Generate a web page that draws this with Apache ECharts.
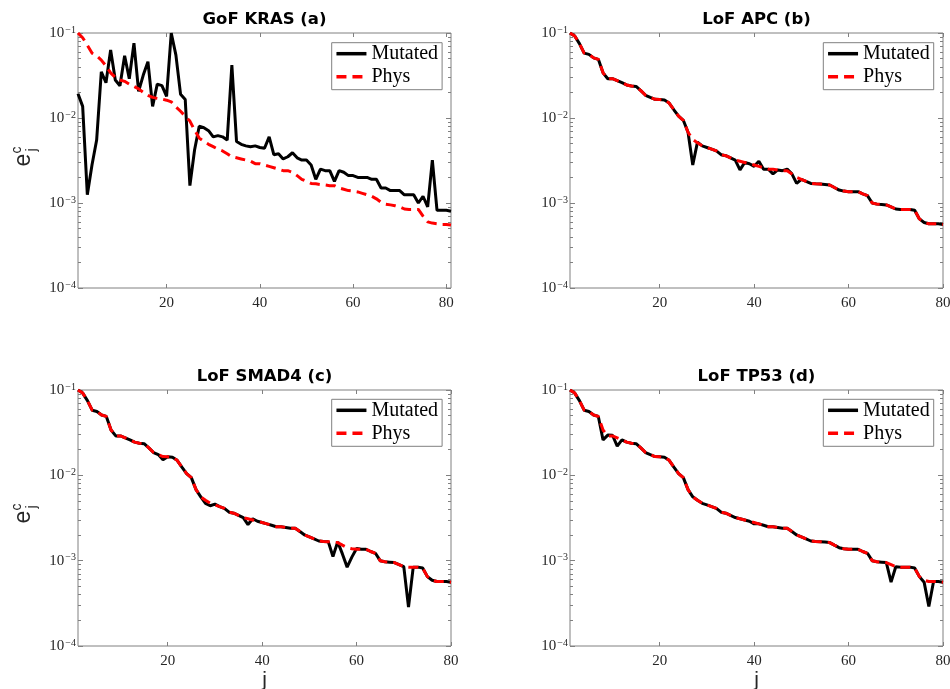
<!DOCTYPE html>
<html><head><meta charset="utf-8">
<script src="https://cdn.jsdelivr.net/npm/echarts@6/dist/echarts.min.js"></script>
<style>html,body{margin:0;padding:0;background:#fff}#c{width:950px;height:689px}</style>
</head><body><div id="c"></div>
<script>
// ---- data ----
const titles = ['GoF KRAS (a)', 'LoF APC (b)', 'LoF SMAD4 (c)', 'LoF TP53 (d)'];
const seriesNames = ['Mutated', 'Phys'];
const xTicks = [20, 40, 60, 80];
const xMax = [81, 80, 80, 80];
const yMajor = [1e-4, 1e-3, 1e-2, 1e-1];
const yMinor = [2e-4,3e-4,4e-4,5e-4,6e-4,7e-4,8e-4,9e-4,
                2e-3,3e-3,4e-3,5e-3,6e-3,7e-3,8e-3,9e-3,
                2e-2,3e-2,4e-2,5e-2,6e-2,7e-2,8e-2,9e-2];

const physKRAS = [0.100,0.088,0.072,0.058,0.054,0.048,0.041,0.034,0.030,0.028,
  0.027,0.025,0.0235,0.022,0.020,0.0185,0.0175,0.017,0.0167,0.0162,
  0.0155,0.0135,0.012,0.0105,0.0092,0.0072,0.0058,0.0053,0.0049,0.0046,
  0.0043,0.0041,0.0038,0.0035,0.0034,0.0033,0.0032,0.0031,0.0029,0.0029,
  0.0028,0.0027,0.0026,0.0025,0.0024,0.0024,0.0023,0.0021,0.0019,0.0018,
  0.0017,0.00168,0.00165,0.00163,0.0016,0.0016,0.0015,0.00145,0.0014,0.00138,
  0.00135,0.0013,0.00125,0.0012,0.00112,0.00102,0.00097,0.00095,0.00093,0.0009,
  0.00085,0.00084,0.00084,0.00084,0.00070,0.00060,0.00058,0.00057,0.00056,0.00056,
  0.00055];
const mutKRAS = [0.0193,0.0137,0.00125,0.0028,0.0055,0.035,0.026,0.063,0.028,0.024,
  0.054,0.029,0.076,0.0206,0.032,0.046,0.0137,0.025,0.024,0.018,
  0.100,0.055,0.019,0.0165,0.0016,0.0042,0.008,0.0077,0.0071,0.006,
  0.0062,0.006,0.0055,0.042,0.0053,0.0049,0.0047,0.0046,0.0047,0.0045,
  0.0044,0.006,0.0037,0.0038,0.0033,0.0035,0.0039,0.0034,0.0032,0.0032,
  0.0028,0.0019,0.0025,0.0024,0.0024,0.0018,0.0024,0.0023,0.0021,0.0021,
  0.0020,0.0020,0.0020,0.0019,0.0019,0.0015,0.0015,0.0014,0.0014,0.0014,
  0.00125,0.00125,0.00125,0.0010,0.0012,0.0009,0.0032,0.00082,0.00082,0.00082,
  0.0008];
const phys = [0.100,0.092,0.075,0.058,0.056,0.051,0.049,0.034,0.029,0.029,
  0.0275,0.026,0.0245,0.0238,0.0235,0.021,0.0185,0.0175,0.0166,0.0165,
  0.0163,0.0150,0.0125,0.0105,0.0094,0.0068,0.0056,0.0051,0.0047,0.0045,
  0.0043,0.0041,0.0037,0.0036,0.0034,0.0032,0.0031,0.0030,0.0029,0.0028,
  0.0027,0.0026,0.0025,0.0025,0.00245,0.0024,0.0024,0.0022,0.0020,0.0019,
  0.0018,0.0017,0.00168,0.00167,0.00165,0.00163,0.00152,0.00142,0.00138,0.00136,
  0.00136,0.00136,0.00128,0.00122,0.00100,0.00097,0.00096,0.00095,0.00090,0.00085,
  0.00084,0.00084,0.00084,0.00082,0.00065,0.00059,0.00057,0.00057,0.00057,0.00056];
const mutAPC = [0.100,0.092,0.075,0.058,0.056,0.051,0.049,0.034,0.029,0.029,
  0.0275,0.026,0.0245,0.0238,0.0235,0.021,0.0185,0.0175,0.0166,0.0165,
  0.0163,0.0150,0.0125,0.0105,0.0094,0.0068,0.0028,0.0052,0.0047,0.0045,
  0.0043,0.0041,0.0037,0.0036,0.0034,0.0032,0.00245,0.0030,0.0029,0.0027,
  0.0031,0.0025,0.0025,0.0022,0.00245,0.0024,0.0025,0.0022,0.0017,0.0019,
  0.0018,0.0017,0.00168,0.00167,0.00165,0.00163,0.00152,0.00142,0.00138,0.00136,
  0.00136,0.00136,0.00128,0.00122,0.00100,0.00097,0.00096,0.00095,0.00090,0.00085,
  0.00084,0.00084,0.00084,0.00082,0.00065,0.00059,0.00057,0.00057,0.00057,0.00056];
const mutSMAD4 = [0.100,0.092,0.075,0.058,0.056,0.051,0.049,0.034,0.029,0.029,
  0.0275,0.026,0.0245,0.0238,0.0235,0.021,0.0185,0.0175,0.0152,0.0165,
  0.0163,0.0150,0.0125,0.0105,0.0094,0.0068,0.0056,0.0047,0.0044,0.0046,
  0.0043,0.0041,0.0037,0.0036,0.0034,0.0032,0.00265,0.0031,0.0029,0.0028,
  0.0027,0.0026,0.0025,0.0025,0.00245,0.0024,0.0024,0.0022,0.0020,0.0019,
  0.0018,0.0017,0.00168,0.00167,0.00112,0.00166,0.0012,0.00084,0.0011,0.00139,
  0.00136,0.00136,0.00128,0.00122,0.00100,0.00097,0.00096,0.00095,0.00090,0.00085,
  0.000286,0.00084,0.00084,0.00082,0.00065,0.00059,0.00057,0.00057,0.00057,0.00056];
const mutTP53 = [0.100,0.092,0.075,0.058,0.056,0.051,0.049,0.026,0.0296,0.0295,
  0.022,0.026,0.0245,0.0238,0.0235,0.021,0.0185,0.0175,0.0166,0.0165,
  0.0163,0.0150,0.0125,0.0105,0.0094,0.0068,0.0056,0.0051,0.0047,0.0045,
  0.0043,0.0041,0.0037,0.0036,0.0034,0.0032,0.0031,0.0030,0.0029,0.0027,
  0.0027,0.0026,0.0025,0.0025,0.00245,0.0024,0.0024,0.0022,0.0020,0.0019,
  0.0018,0.0017,0.00168,0.00167,0.00165,0.00163,0.00152,0.00142,0.00138,0.00136,
  0.00136,0.00136,0.00128,0.00122,0.00100,0.00097,0.00096,0.00095,0.00056,0.00085,
  0.00084,0.00084,0.00084,0.00082,0.00065,0.00056,0.00029,0.00057,0.00057,0.00056];

const mutated = [mutKRAS, mutAPC, mutSMAD4, mutTP53];
const physio = [physKRAS, phys, phys, phys];

// ---- layout ----
const grids = [
  {left: 78, top: 33, width: 373, height: 255},
  {left: 570, top: 33, width: 373, height: 255},
  {left: 78, top: 390, width: 373, height: 256},
  {left: 570, top: 390, width: 373, height: 256}
];
const legendPos = [[331.7, 42.7], [823.3, 42.7], [331.7, 399.3], [823.3, 399.3]];
const axisGray = '#808080';
const textDark = '#262626';
const serif = 'Liberation Serif';

const option = {
  backgroundColor: '#fff',
  animation: false,
  title: [], grid: [], xAxis: [], yAxis: [], series: [], legend: [], graphic: []
};

grids.forEach((g, k) => {
  option.grid.push(Object.assign({show: true, borderColor: axisGray, borderWidth: 1, backgroundColor: '#fff',
    containLabel: false, outerBoundsMode: 'none'}, g));
  option.title.push({
    text: titles[k], left: g.left + g.width / 2, top: g.top - 22, textAlign: 'center', padding: 0,
    textStyle: {fontFamily: 'DejaVu Sans', fontWeight: 'bold', fontSize: 16.5, color: '#000'}
  });
  const bottomRow = k >= 2;
  option.xAxis.push({
    type: 'value', gridIndex: k, min: 1, max: xMax[k], position: 'bottom',
    axisLine: {show: false}, splitLine: {show: false},
    axisTick: {show: true, inside: true, length: 4, customValues: xTicks, lineStyle: {color: axisGray}},
    axisLabel: {show: true, customValues: xTicks, margin: 8, fontFamily: serif, fontSize: 15, color: textDark},
    name: bottomRow ? 'j' : '', nameLocation: 'middle', nameGap: 22,
    nameTextStyle: {fontFamily: 'Liberation Sans', fontSize: 21, color: textDark}
  });
  option.xAxis.push({
    type: 'value', gridIndex: k, min: 1, max: xMax[k], position: 'top',
    axisLine: {show: false}, splitLine: {show: false},
    axisTick: {show: true, inside: true, length: 4, customValues: xTicks, lineStyle: {color: axisGray}},
    axisLabel: {show: false}
  });
  const yBase = {type: 'log', logBase: 10, gridIndex: k, min: 1e-4, max: 0.1,
    axisLine: {show: false}, splitLine: {show: false}, minorTick: {show: false}};
  const yi = option.yAxis.length;
  option.yAxis.push(Object.assign({}, yBase, {
    position: 'left',
    axisTick: {show: true, inside: true, length: 5, customValues: yMajor, lineStyle: {color: axisGray}},
    axisLabel: {show: true, customValues: yMajor, margin: 2,
      formatter: v => '{b|10}{s|\u2212' + Math.abs(Math.round(Math.log10(v))) + '}',
      rich: {
        b: {fontFamily: serif, fontSize: 15, color: textDark, lineHeight: 22, verticalAlign: 'middle'},
        s: {fontFamily: serif, fontSize: 10, color: textDark, lineHeight: 22, verticalAlign: 'top', padding: [3, 0, 0, 1]}
      }}
  }));
  option.yAxis.push(Object.assign({}, yBase, {
    position: 'left',
    axisTick: {show: true, inside: true, length: 3, customValues: yMinor, lineStyle: {color: axisGray}},
    axisLabel: {show: false}
  }));
  option.yAxis.push(Object.assign({}, yBase, {
    position: 'right',
    axisTick: {show: true, inside: true, length: 5, customValues: yMajor, lineStyle: {color: axisGray}},
    axisLabel: {show: false}
  }));
  option.yAxis.push(Object.assign({}, yBase, {
    position: 'right',
    axisTick: {show: true, inside: true, length: 3, customValues: yMinor, lineStyle: {color: axisGray}},
    axisLabel: {show: false}
  }));
  option.series.push({
    name: seriesNames[0], type: 'line', xAxisIndex: 2 * k, yAxisIndex: yi,
    data: mutated[k].map((v, i) => [i + 1, v]),
    showSymbol: false, symbol: 'none', symbolSize: 0, z: 2,
    lineStyle: {color: '#000', width: 3}, itemStyle: {color: '#000'}
  });
  option.series.push({
    name: seriesNames[1], type: 'line', xAxisIndex: 2 * k, yAxisIndex: yi,
    data: physio[k].map((v, i) => [i + 1, v]),
    showSymbol: false, symbol: 'none', symbolSize: 0, z: 3,
    lineStyle: {color: '#ff0000', width: 3, type: [10, 6]}, itemStyle: {color: '#ff0000'}
  });
  option.legend.push({
    data: seriesNames, orient: 'vertical', left: legendPos[k][0], top: legendPos[k][1],
    itemWidth: 30, itemHeight: 14, itemGap: 3, padding: [1, 4, 3, 3],
    borderColor: axisGray, borderWidth: 1, backgroundColor: '#fff', selectedMode: false,
    itemStyle: {opacity: 0},
    lineStyle: {width: 3.5},
    textStyle: {fontFamily: serif, fontSize: 20, color: '#000', lineHeight: 20}
  });
  if (k % 2 === 0) {
    const cy = g.top + 127;
    option.graphic.push({
      type: 'group', x: 24, y: cy, rotation: Math.PI / 2,
      children: [
        {type: 'text', x: 0, y: 0, style: {text: 'e', fontFamily: 'Liberation Sans', fontSize: 23, fill: textDark, align: 'center', verticalAlign: 'middle'}},
        {type: 'text', x: 10, y: -7, style: {text: 'c', fontFamily: 'Liberation Sans', fontSize: 14, fill: textDark, align: 'center', verticalAlign: 'middle'}},
        {type: 'text', x: 10, y: 8, style: {text: 'j', fontFamily: 'Liberation Sans', fontSize: 14, fill: textDark, align: 'center', verticalAlign: 'middle'}}
      ]
    });
  }
});

const chart = echarts.init(document.getElementById('c'), null, {renderer: 'canvas'});
chart.setOption(option);
</script></body></html>
